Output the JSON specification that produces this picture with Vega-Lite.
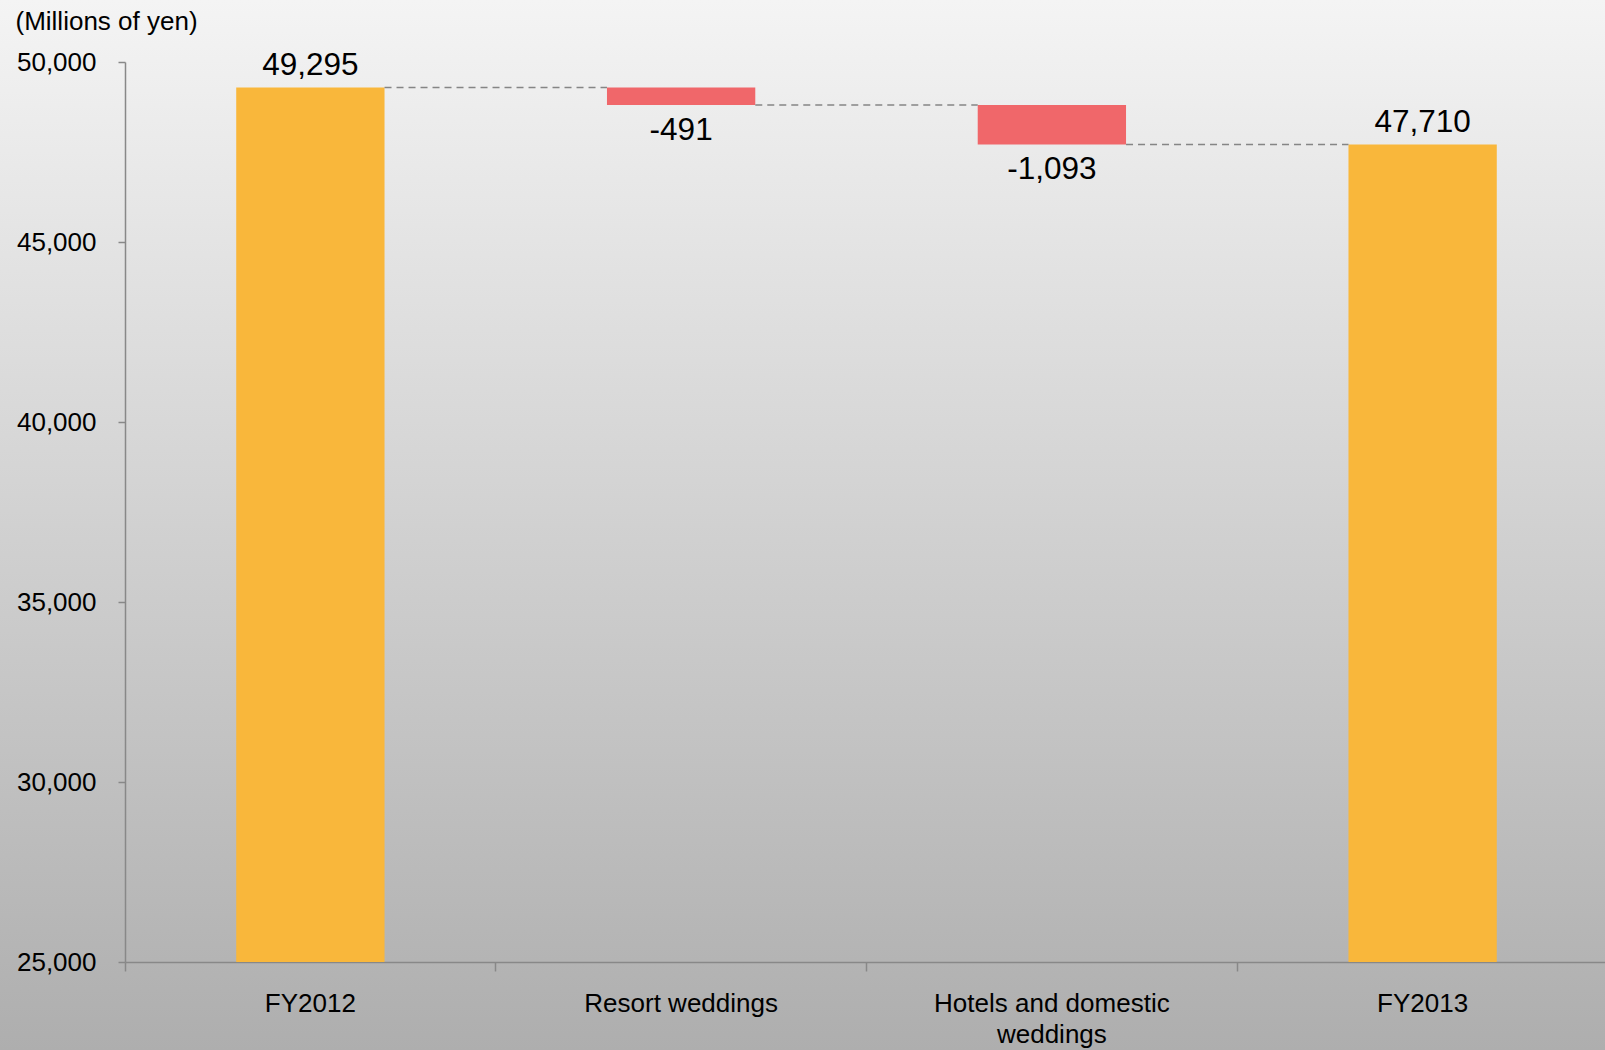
{
  "$schema": "https://vega.github.io/schema/vega-lite/v6.json",
  "width": 1605,
  "height": 1050,
  "autosize": {"type": "none"},
  "padding": 0,
  "background": "#d2d2d2",
  "view": {
    "stroke": null,
    "fill": {
      "gradient": "linear",
      "x1": 0, "y1": 0, "x2": 0, "y2": 1,
      "stops": [
        {"offset": 0, "color": "#f4f4f4"},
        {"offset": 1, "color": "#aeaeae"}
      ]
    }
  },
  "config": {
    "font": "Liberation Sans",
    "locale": {"number": {"decimal": ".", "thousands": ",", "grouping": [3], "currency": ["", ""], "minus": "-"}},
    "axis": {"labelFont": "Liberation Sans", "titleFont": "Liberation Sans", "labelColor": "#000000", "titleColor": "#000000", "grid": false}
  },
  "data": {
    "values": [
      {"category": "FY2012", "type": "total", "start": 0, "end": 49295, "delta": 49295, "next": "Resort weddings"},
      {"category": "Resort weddings", "type": "decrease", "start": 49295, "end": 48804, "delta": -491, "next": "Hotels and domestic weddings"},
      {"category": "Hotels and domestic weddings", "type": "decrease", "start": 48804, "end": 47711, "delta": -1093, "next": "FY2013"},
      {"category": "FY2013", "type": "total", "start": 0, "end": 47710, "delta": 47710, "next": null}
    ]
  },
  "encoding": {
    "x": {
      "field": "category", "type": "nominal",
      "scale": {"domain": ["FY2012", "Resort weddings", "Hotels and domestic weddings", "FY2013"], "range": [125, 1608], "paddingInner": 0, "paddingOuter": 0},
      "axis": {
        "orient": "bottom", "offset": -88, "title": null, "bandPosition": 0,
        "labelAngle": 0, "labelFontSize": 26, "labelBaseline": "alphabetic", "labelPadding": 40,
        "labelLineHeight": 31, "labelLimit": 600, "labelOverlap": false, "labelFlush": false,
        "labelExpr": "datum.value == 'Hotels and domestic weddings' ? ['Hotels and domestic', 'weddings'] : datum.label",
        "tickSize": 9, "tickColor": "#888888", "tickWidth": 1.5, "domainColor": "#888888", "domainWidth": 1.5
      }
    },
    "y": {
      "field": "end", "type": "quantitative",
      "scale": {"domain": [25000, 50000], "range": [962, 62], "clamp": true, "nice": false, "zero": false},
      "axis": {
        "orient": "left", "offset": -125, "values": [25000, 30000, 35000, 40000, 45000, 50000], "format": ",d",
        "labelFontSize": 26, "labelPadding": 22, "tickSize": 7, "tickColor": "#888888", "tickWidth": 1.5,
        "domainColor": "#888888", "domainWidth": 1.5,
        "title": "(Millions of yen)", "titleAngle": 0, "titleAlign": "left", "titleBaseline": "alphabetic",
        "titleFontSize": 26, "titleFontWeight": "normal", "titleX": -110, "titleY": 29
      }
    }
  },
  "layer": [
    {
      "mark": {"type": "bar", "width": {"band": 0.4}},
      "encoding": {
        "y2": {"field": "start"},
        "color": {
          "field": "type", "type": "nominal",
          "scale": {"domain": ["total", "decrease"], "range": ["#f9b73b", "#f0676a"]},
          "legend": null
        }
      }
    },
    {
      "transform": [{"filter": "datum.next != null"}],
      "mark": {"type": "rule", "strokeDash": [7, 5], "color": "#858585", "strokeWidth": 1.5},
      "encoding": {
        "x": {
          "field": "category", "type": "nominal", "bandPosition": 0.7,
          "scale": {"domain": ["FY2012", "Resort weddings", "Hotels and domestic weddings", "FY2013"], "range": [125, 1608], "paddingInner": 0, "paddingOuter": 0},
          "axis": {
            "orient": "bottom", "offset": -88, "title": null, "bandPosition": 0,
            "labelAngle": 0, "labelFontSize": 26, "labelBaseline": "alphabetic", "labelPadding": 40,
            "labelLineHeight": 31, "labelLimit": 600, "labelOverlap": false, "labelFlush": false,
            "labelExpr": "datum.value == 'Hotels and domestic weddings' ? ['Hotels and domestic', 'weddings'] : datum.label",
            "tickSize": 9, "tickColor": "#888888", "tickWidth": 1.5, "domainColor": "#888888", "domainWidth": 1.5
          }
        },
        "x2": {"field": "next", "bandPosition": 0.3}
      }
    },
    {
      "transform": [{"filter": "datum.type == 'total'"}],
      "mark": {"type": "text", "fontSize": 31.5, "baseline": "alphabetic", "dy": -12, "color": "#000000"},
      "encoding": {
        "text": {"field": "delta", "type": "quantitative", "format": ","}
      }
    },
    {
      "transform": [{"filter": "datum.type == 'decrease'"}],
      "mark": {"type": "text", "fontSize": 31.5, "baseline": "alphabetic", "dy": 35, "color": "#000000"},
      "encoding": {
        "text": {"field": "delta", "type": "quantitative", "format": ","}
      }
    }
  ]
}
